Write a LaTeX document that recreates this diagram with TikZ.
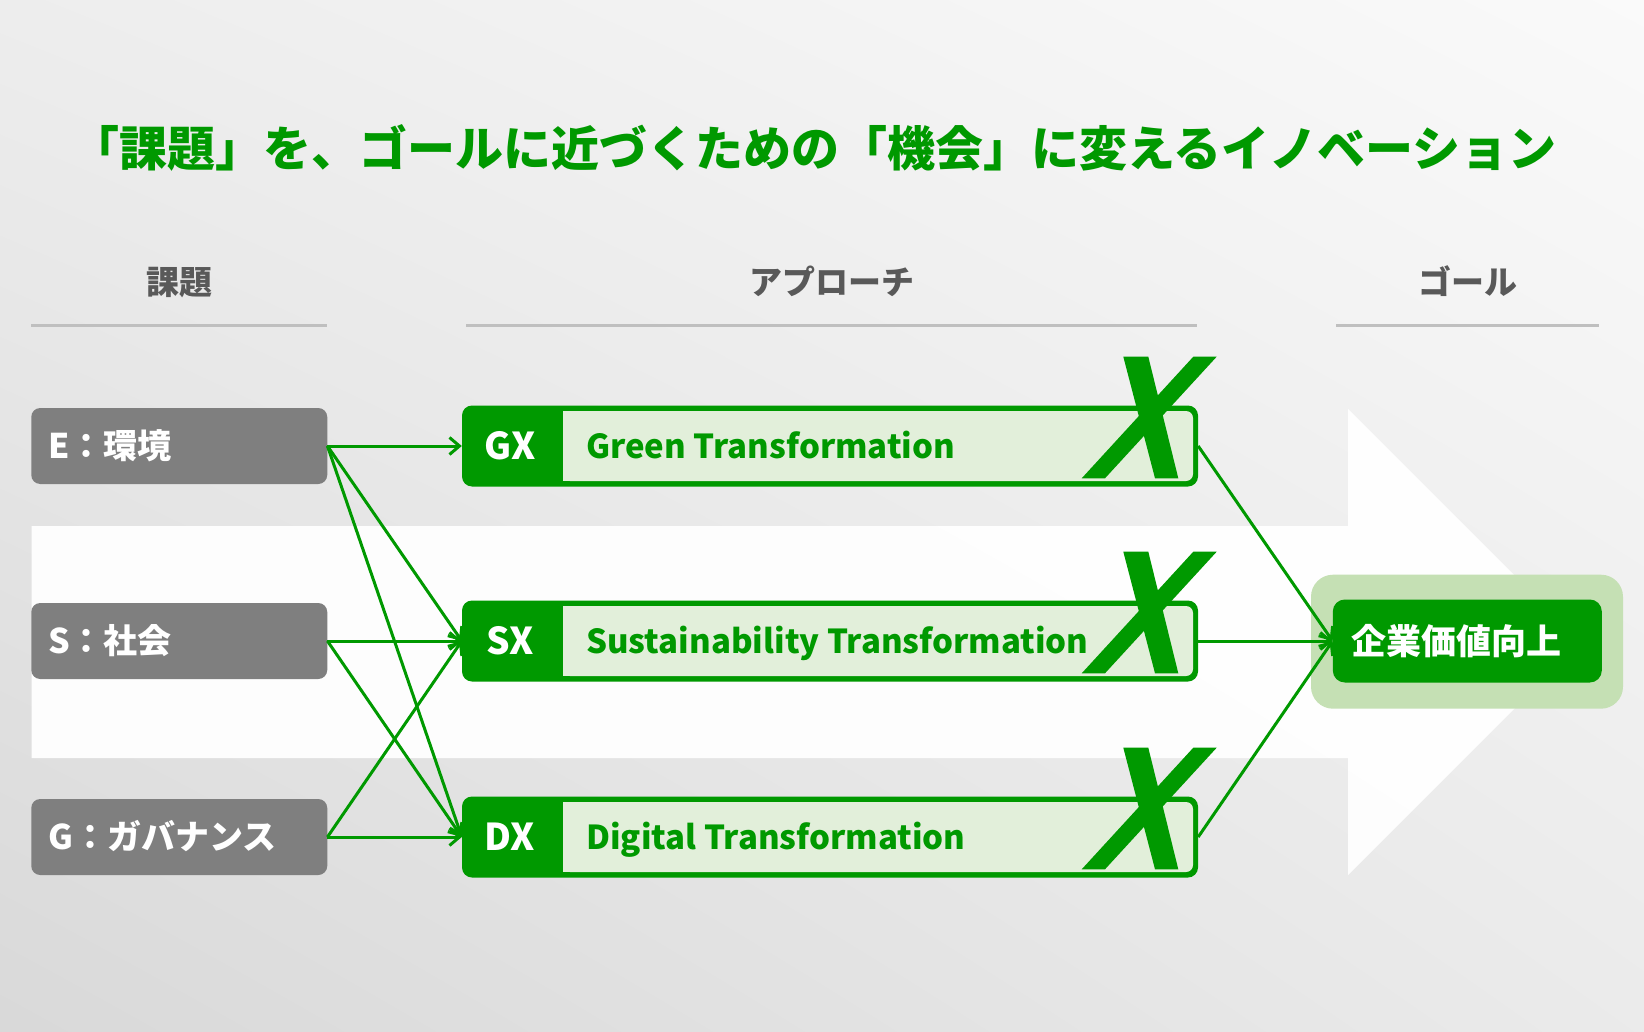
\documentclass[tikz,border=0pt]{standalone}
\usepackage{fontspec}
\setmainfont{Noto Sans CJK JP}
\usetikzlibrary{arrows.meta,shadings}
\definecolor{gr}{HTML}{009900}
\definecolor{lgr}{HTML}{E2EFDA}
\definecolor{ggr}{HTML}{C5E0B4}
\definecolor{boxgray}{HTML}{7F7F7F}
\definecolor{hdgray}{HTML}{595959}
\definecolor{lngray}{HTML}{BFBFBF}
\newcommand\fs[1]{\fontsize{#1}{#1}\selectfont\bfseries}
\newcommand\apbox[4]{%
  \node[apout] (#1) at (830,#2) {};
  \fill[lgr, rounded corners=7pt] (563,#2-35) rectangle (1193,#2+35);
  \fill[lgr] (563,#2-35) rectangle (580,#2+35);
  \node[aplabel] (#1-l) at (510,#2+13) {#3};
  \node[aptext] (#1-t) at (586,#2+12.5) {#4};
  \pic at (0,#2) {bigx};
}
\tikzset{
  leftbox/.style={fill=boxgray, rounded corners=9pt, minimum width=296pt, minimum height=76pt, inner sep=0pt},
  lefttxt/.style={anchor=base west, white, font=\fs{34}, inner sep=0pt},
  apout/.style={fill=gr, rounded corners=10pt, minimum width=736pt, minimum height=81pt, inner sep=0pt},
  aplabel/.style={anchor=base, white, font=\fs{37}, inner sep=0pt},
  aptext/.style={anchor=base west, gr, font=\fs{33}, inner sep=0pt},
  hdtxt/.style={anchor=base, hdgray, font=\fs{33}, inner sep=0pt},
  hdline/.style={lngray, line width=3pt},
  conn/.style={gr, line width=3pt, -{Straight Barb[length=10pt,width=17pt]}},
  bigx/.pic={
    \fill[gr] (1123.3,-89.3) -- (1148.3,-89.3) -- (1178.3,32.3) -- (1155,32.3) -- cycle;
    \fill[gr] (1193.3,-89.3) -- (1216.7,-89.3) -- (1105,32.3) -- (1081.7,32.3) -- cycle;
  }
}
\begin{document}
\begin{tikzpicture}[x=1pt,y=-1pt]
\useasboundingbox (0,0) rectangle (1644,1032);
\shade[upper left=black!7, upper right=black!2, lower left=black!15, lower right=black!8] (0,0) rectangle (1644,1032);
% background arrow
\fill[white, opacity=0.95] (31.5,526) -- (1348,526) -- (1348,409) -- (1581,642) -- (1348,875) -- (1348,758) -- (31.5,758) -- cycle;
% title
\node[anchor=base, gr, font=\fs{48}, inner sep=0pt] (title) at (814,167) {「課題」を、ゴールに近づくための「機会」に変えるイノベーション};
% headers
\node[hdtxt] (h1) at (179,295) {課題};
\node[hdtxt] (h2) at (831.5,295) {アプローチ};
\node[hdtxt] (h3) at (1467.5,295) {ゴール};
\draw[hdline] (31,326) -- (327,326);
\draw[hdline] (466,326) -- (1197,326);
\draw[hdline] (1336,326) -- (1599,326);
% left boxes
\node[leftbox] (E) at (179.25,446) {};
\node[leftbox] (S) at (179.25,641) {};
\node[leftbox] (G) at (179.25,837) {};
\node[lefttxt] (Et) at (48,458.5) {E：環境};
\node[lefttxt] (St) at (48,653.5) {S：社会};
\node[lefttxt] (Gt) at (48,849.5) {G：ガバナンス};
% approach boxes
\apbox{GX}{446}{GX}{Green Transformation}
\apbox{SX}{641}{SX}{Sustainability Transformation}
\apbox{DX}{837}{DX}{Digital Transformation}
% goal
\node[fill=ggr, rounded corners=22pt, minimum width=312pt, minimum height=134pt, inner sep=0pt] (goalbg) at (1467,641.7) {};
\node[fill=gr, rounded corners=12pt, minimum width=269pt, minimum height=83pt, inner sep=0pt] (goal) at (1467.3,641) {};
\node[anchor=base, white, font=\fs{35}, inner sep=0pt] (goalt) at (1456,654) {企業価値向上};
% connectors
\draw[conn] (E.east) -- (GX.west);
\draw[conn] (E.east) -- (SX.west);
\draw[conn] (E.east) -- (DX.west);
\draw[conn] (S.east) -- (SX.west);
\draw[conn] (S.east) -- (DX.west);
\draw[conn] (G.east) -- (SX.west);
\draw[conn] (G.east) -- (DX.west);
\draw[conn] (GX.east) -- (goal.west);
\draw[conn] (SX.east) -- (goal.west);
\draw[conn] (DX.east) -- (goal.west);
\end{tikzpicture}
\end{document}
